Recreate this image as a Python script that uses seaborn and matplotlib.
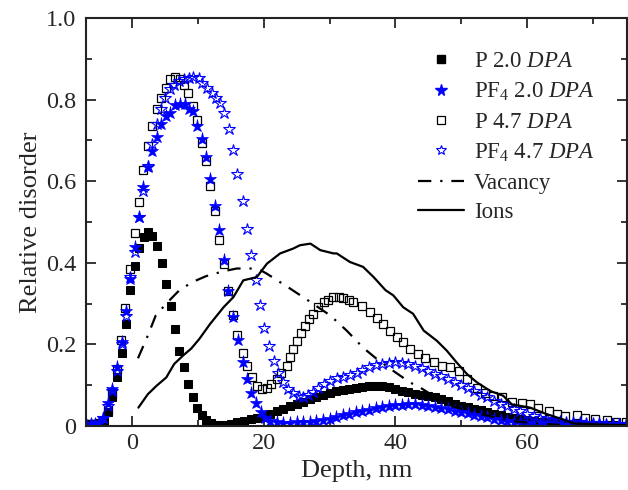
import matplotlib.pyplot as plt
import pandas as pd
import seaborn as sns
from matplotlib.lines import Line2D
from matplotlib.ticker import FuncFormatter, MultipleLocator

# P 2.0 DPA (filled black squares)
p20_depth = [-7.0, -6.3, -5.6, -5.0, -4.3, -3.6, -3.0, -2.3, -1.6, -0.9, -0.3, 0.45, 1.1, 1.8, 2.4,
             3.1, 3.75, 4.55, 5.2, 5.9, 6.5, 7.2, 7.85, 8.55, 9.2, 9.9, 10.6, 11.3, 12.0, 13.0,
             14.0, 15.0, 16.0, 17.0, 18.0, 19.0, 20.0, 21.0, 22.0, 23.0, 24.0, 25.0, 26.0, 27.0,
             28.0, 29.0, 30.0, 31.0, 32.0, 33.0, 34.0, 35.0, 36.0, 37.0, 38.0, 39.0, 40.0, 41.0,
             42.0, 43.0, 44.0, 45.0, 46.0, 47.0, 48.0, 49.0, 50.0, 51.0, 52.0, 53.0, 54.0, 55.0,
             56.0, 57.0, 58.0, 59.0, 60.0, 61.0, 62.0, 63.0, 64.0, 65.0, 66.0, 67.0, 68.0, 69.0,
             70.0, 71.0, 72.0, 73.0, 74.0, 75.0]
p20_value = [0.003, 0.004, 0.005, 0.006, 0.01, 0.035, 0.07, 0.12, 0.18, 0.25, 0.333, 0.392, 0.437,
             0.464, 0.476, 0.466, 0.44, 0.40, 0.349, 0.293, 0.238, 0.185, 0.144, 0.104, 0.07, 0.045,
             0.027, 0.014, 0.008, 0.003, 0.002, 0.006, 0.009, 0.013, 0.016, 0.019, 0.023, 0.03,
             0.036, 0.042, 0.048, 0.054, 0.06, 0.066, 0.071, 0.076, 0.08, 0.085, 0.088, 0.091,
             0.094, 0.096, 0.098, 0.099, 0.097, 0.095, 0.091, 0.087, 0.083, 0.079, 0.076, 0.074,
             0.071, 0.067, 0.062, 0.055, 0.05, 0.046, 0.042, 0.038, 0.034, 0.03, 0.026, 0.023,
             0.02, 0.017, 0.015, 0.013, 0.011, 0.009, 0.008, 0.006, 0.005, 0.004, 0.004, 0.003,
             0.003, 0.002, 0.002, 0.002, 0.001, 0.001]

# PF4 2.0 DPA (filled blue stars)
pf20_depth = [-7.0, -6.3, -5.6, -5.0, -4.4, -3.7, -3.0, -2.3, -1.6, -0.9, -0.3, 0.4, 1.0, 1.7, 2.4,
              3.1, 3.75, 4.4, 5.2, 5.8, 6.5, 7.3, 8.05, 8.7, 9.2, 9.9, 10.6, 11.25, 11.9, 12.6,
              13.25, 13.9, 14.6, 15.4, 16.05, 16.8, 17.4, 18.1, 18.8, 19.6, 20.2, 21.0, 22.0, 23.0,
              24.0, 25.0, 26.0, 27.0, 28.0, 29.0, 30.0, 31.0, 32.0, 33.0, 34.0, 35.0, 36.0, 37.0,
              38.0, 39.0, 40.0, 41.0, 42.0, 43.0, 44.0, 45.0, 46.0, 47.0, 48.0, 49.0, 50.0, 51.0,
              52.0, 53.0, 54.0, 55.0, 56.0, 57.0, 58.0, 59.0, 60.0, 61.0, 62.0, 63.0, 64.0, 65.0,
              66.0, 67.0, 68.0, 69.0, 70.0, 71.0, 72.0, 73.0, 74.0, 75.0]
pf20_value = [0.004, 0.005, 0.006, 0.008, 0.02, 0.057, 0.09, 0.144, 0.207, 0.283, 0.361, 0.439,
              0.513, 0.585, 0.635, 0.673, 0.709, 0.739, 0.759, 0.768, 0.786, 0.79, 0.788, 0.776,
              0.772, 0.735, 0.704, 0.659, 0.606, 0.54, 0.48, 0.406, 0.332, 0.267, 0.211, 0.156,
              0.115, 0.08, 0.057, 0.035, 0.02, 0.012, 0.009, 0.008, 0.008, 0.009, 0.01, 0.011,
              0.013, 0.015, 0.017, 0.021, 0.026, 0.03, 0.034, 0.037, 0.04, 0.043, 0.046, 0.049,
              0.051, 0.052, 0.053, 0.053, 0.052, 0.05, 0.047, 0.044, 0.041, 0.037, 0.034, 0.031,
              0.028, 0.025, 0.021, 0.018, 0.015, 0.013, 0.011, 0.009, 0.007, 0.006, 0.005, 0.004,
              0.004, 0.003, 0.003, 0.003, 0.003, 0.002, 0.002, 0.002, 0.002, 0.002, 0.002, 0.002]

# P 4.7 DPA (open black squares)
p47_depth = [-7.0, -6.3, -5.6, -5.0, -4.4, -3.7, -3.0, -2.3, -1.7, -1.0, -0.3, 0.4, 1.0, 1.7, 2.4,
             3.1, 3.75, 4.4, 5.2, 5.8, 6.5, 7.3, 7.9, 8.55, 9.2, 9.9, 10.6, 11.25, 11.9, 12.6,
             13.25, 13.9, 14.6, 15.4, 15.9, 16.8, 17.4, 18.2, 18.95, 19.7, 20.5, 21.1, 22.0, 22.7,
             23.5, 24.0, 24.5, 25.0, 25.7, 26.3, 26.9, 27.5, 28.3, 29.1, 29.8, 30.6, 31.4, 32.1,
             32.9, 33.6, 34.9, 36.2, 37.2, 38.2, 39.2, 40.2, 41.2, 42.2, 43.5, 44.5, 45.8, 47.1,
             48.3, 49.6, 50.9, 52.4, 53.6, 54.9, 56.2, 57.7, 59.2, 60.5, 61.7, 63.3, 64.5, 65.8,
             67.6, 68.8, 70.4, 72.1, 73.6, 75.0]
p47_value = [0.004, 0.005, 0.006, 0.008, 0.012, 0.039, 0.079, 0.14, 0.21, 0.29, 0.384, 0.472, 0.55,
             0.628, 0.687, 0.735, 0.776, 0.805, 0.829, 0.85, 0.856, 0.85, 0.836, 0.817, 0.785,
             0.749, 0.694, 0.649, 0.589, 0.528, 0.457, 0.398, 0.332, 0.271, 0.222, 0.18, 0.146,
             0.119, 0.098, 0.09, 0.094, 0.103, 0.115, 0.131, 0.148, 0.168, 0.189, 0.209, 0.227,
             0.246, 0.263, 0.275, 0.291, 0.304, 0.31, 0.315, 0.315, 0.313, 0.308, 0.303, 0.293,
             0.279, 0.265, 0.249, 0.234, 0.219, 0.205, 0.189, 0.177, 0.166, 0.156, 0.148, 0.144,
             0.135, 0.115, 0.094, 0.082, 0.074, 0.07, 0.06, 0.057, 0.053, 0.045, 0.037, 0.029,
             0.025, 0.027, 0.02, 0.016, 0.014, 0.011, 0.009]

# PF4 4.7 DPA (open blue stars)
pf47_depth = [-7.0, -6.3, -5.6, -5.0, -4.4, -3.7, -3.0, -2.3, -1.6, -0.9, -0.3, 0.45, 1.1, 1.7, 2.4,
              3.0, 3.75, 4.35, 5.0, 5.8, 6.4, 7.2, 7.95, 8.65, 9.3, 10.1, 10.7, 11.4, 12.1, 12.8,
              13.4, 14.0, 14.7, 15.3, 16.0, 16.8, 17.4, 18.1, 18.8, 19.5, 20.1, 20.8, 21.5, 22.2,
              23.0, 23.75, 24.5, 25.3, 26.0, 26.8, 27.5, 28.3, 29.1, 30.1, 31.1, 32.1, 33.1, 34.1,
              35.0, 36.0, 37.0, 38.0, 39.0, 40.0, 41.0, 42.0, 43.0, 44.0, 45.0, 46.0, 47.0, 48.0,
              49.0, 50.0, 51.0, 52.0, 53.0, 54.0, 55.0, 56.0, 57.0, 58.0, 59.0, 60.0, 61.0, 62.0,
              63.0, 64.0, 65.0, 66.0, 67.0, 68.0, 69.0, 70.0, 71.0, 72.0, 73.0, 74.0, 75.0]
pf47_value = [0.004, 0.005, 0.006, 0.008, 0.02, 0.05, 0.085, 0.135, 0.2, 0.27, 0.365, 0.427, 0.513,
              0.575, 0.638, 0.69, 0.739, 0.778, 0.805, 0.825, 0.837, 0.846, 0.85, 0.854, 0.856,
              0.854, 0.841, 0.829, 0.817, 0.805, 0.792, 0.768, 0.727, 0.677, 0.618, 0.552, 0.483,
              0.419, 0.357, 0.296, 0.241, 0.195, 0.16, 0.131, 0.107, 0.09, 0.08, 0.074, 0.072,
              0.076, 0.084, 0.094, 0.103, 0.111, 0.117, 0.121, 0.126, 0.13, 0.138, 0.145, 0.15,
              0.153, 0.155, 0.156, 0.154, 0.151, 0.146, 0.141, 0.135, 0.128, 0.122, 0.115, 0.109,
              0.1, 0.092, 0.085, 0.077, 0.07, 0.062, 0.055, 0.048, 0.042, 0.036, 0.03, 0.025, 0.02,
              0.017, 0.015, 0.013, 0.011, 0.01, 0.009, 0.008, 0.008, 0.007, 0.006, 0.006, 0.005,
              0.005]

# Vacancy profile (dash-dot line)
vac_depth = [0.9, 2.4, 3.6, 5.2, 7.2, 9.2, 11.2, 13.8, 15.9, 18.4, 19.5, 20.4, 24.0, 27.1, 30.1,
             32.6, 35.1, 37.2, 39.7, 42.2, 43.8, 47.8, 52.9, 57.9, 61.5, 65.0]
vac_value = [0.166, 0.222, 0.271, 0.30, 0.333, 0.353, 0.367, 0.379, 0.386, 0.386, 0.382, 0.374,
             0.337, 0.304, 0.271, 0.234, 0.192, 0.164, 0.135, 0.107, 0.094, 0.053, 0.029, 0.012,
             0.006, 0.003]

# Ion profile (solid line)
ion_depth = [0.96, 2.4, 3.75, 5.2, 6.4, 7.7, 9.0, 10.2, 11.85, 13.9, 15.4, 16.9, 18.95, 20.5, 22.5,
             24.5, 25.5, 27.1, 28.6, 30.6, 31.1, 33.1, 35.1, 36.7, 38.5, 39.7, 41.2, 42.7, 44.3,
             46.3, 47.8, 49.3, 50.9, 52.4, 54.4, 56.4, 57.7, 60.5, 63.0, 65.5, 67.1, 70.6, 75.0]
ion_value = [0.045, 0.078, 0.099, 0.119, 0.152, 0.172, 0.19, 0.213, 0.25, 0.291, 0.316, 0.357,
             0.365, 0.398, 0.423, 0.435, 0.443, 0.447, 0.431, 0.423, 0.423, 0.402, 0.39, 0.365,
             0.333, 0.32, 0.291, 0.275, 0.234, 0.209, 0.185, 0.156, 0.127, 0.107, 0.086, 0.074,
             0.053, 0.045, 0.029, 0.016, 0.006, 0.004, 0.002]

LABELS = [r"P 2.0 $\mathit{DPA}$", r"PF$_4$ 2.0 $\mathit{DPA}$", r"P 4.7 $\mathit{DPA}$",
          r"PF$_4$ 4.7 $\mathit{DPA}$", "Vacancy", "Ions"]

sns.set_style("ticks", {"xtick.direction": "in", "ytick.direction": "in"})
plt.rcParams["font.family"] = ["Liberation Serif", "DejaVu Serif"]
plt.rcParams["mathtext.fontset"] = "custom"
plt.rcParams["mathtext.rm"] = "Liberation Serif"
plt.rcParams["mathtext.it"] = "Liberation Serif:italic"

fig = plt.figure(figsize=(6.28, 4.9), dpi=100)
ax = fig.add_axes([86 / 628, 1 - 426 / 490, 541 / 628, 408 / 490])

common = dict(ax=ax, sort=False, estimator=None, linestyle="", legend=False)

sns.lineplot(data=pd.DataFrame({"depth": p20_depth, "value": p20_value}), x="depth", y="value",
             marker="s", ms=5.2, mfc="black", mec="black", color="black", **common)
sns.lineplot(data=pd.DataFrame({"depth": p47_depth, "value": p47_value}), x="depth", y="value",
             marker="s", ms=6.0, mfc="none", mec="black", mew=0.9, color="black", **common)
sns.lineplot(data=pd.DataFrame({"depth": pf20_depth, "value": pf20_value}), x="depth", y="value",
             marker="*", ms=9.5, mfc="blue", mec="blue", mew=0.5, color="blue", **common)
sns.lineplot(data=pd.DataFrame({"depth": pf47_depth, "value": pf47_value}), x="depth", y="value",
             marker="*", ms=9.0, mfc="none", mec="blue", mew=0.8, color="blue", **common)

sns.lineplot(data=pd.DataFrame({"depth": vac_depth, "value": vac_value}), x="depth", y="value",
             ax=ax, sort=False, estimator=None, color="black", lw=1.6, dashes=False,
             legend=False).lines[-1].set_dashes((6, 4, 1, 4))
sns.lineplot(data=pd.DataFrame({"depth": ion_depth, "value": ion_value}), x="depth", y="value",
             ax=ax, sort=False, estimator=None, color="black", lw=1.6, legend=False)

ax.set_xlim(-7, 75.2)
ax.set_ylim(0, 1.0)
ax.xaxis.set_major_locator(MultipleLocator(20))
ax.xaxis.set_minor_locator(MultipleLocator(10))
ax.yaxis.set_major_locator(MultipleLocator(0.2))
ax.yaxis.set_minor_locator(MultipleLocator(0.1))
ax.yaxis.set_major_formatter(FuncFormatter(lambda v, _: "0" if abs(v) < 1e-9 else f"{v:.1f}"))
ax.tick_params(which="both", direction="in", top=True, right=True, width=1.3, labelsize=17.5)
ax.tick_params(which="major", length=7)
ax.tick_params(which="minor", length=4)
ax.tick_params(axis="y", pad=7)
ax.tick_params(axis="x", pad=5)
for side in ax.spines.values():
    side.set_linewidth(1.5)
    side.set_color("#222222")

ax.set_xlabel("Depth, nm", fontsize=19, labelpad=4)
ax.set_ylabel("Relative disorder", fontsize=19, labelpad=3)

handles = [
    Line2D([], [], linestyle="", marker="s", ms=5.2, mfc="black", mec="black"),
    Line2D([], [], linestyle="", marker="*", ms=8.5, mfc="blue", mec="blue"),
    Line2D([], [], linestyle="", marker="s", ms=5.2, mfc="none", mec="black", mew=0.9),
    Line2D([], [], linestyle="", marker="*", ms=7.5, mfc="none", mec="blue", mew=0.8),
    Line2D([], [], color="black", lw=1.6, dashes=(6, 4, 1, 4)),
    Line2D([], [], color="black", lw=1.6),
]
ax.legend(handles, LABELS, loc="upper left", bbox_to_anchor=(418 / 628, 1 - 51 / 490),
          bbox_transform=fig.transFigure, frameon=False, fontsize=16.5, handlelength=2.0,
          handletextpad=0.45, labelspacing=0.38, borderpad=0, borderaxespad=0, numpoints=1)

fig.savefig("out.png", dpi=100)
